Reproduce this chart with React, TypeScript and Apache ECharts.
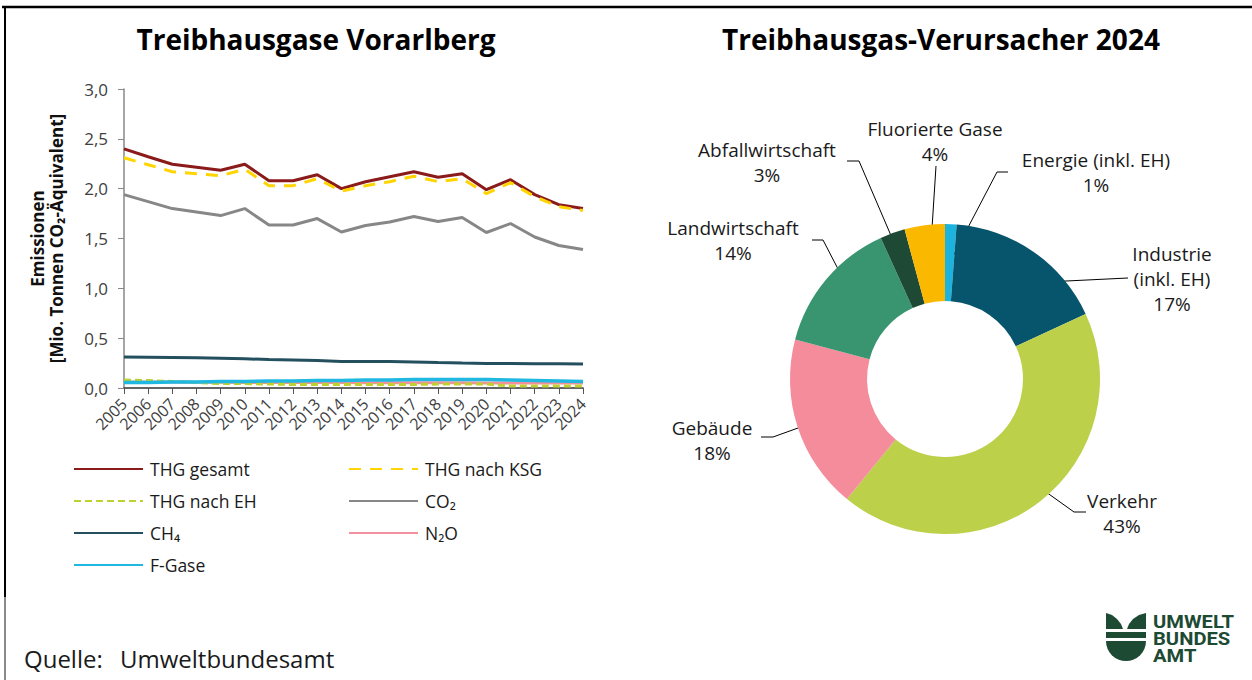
import React, { useEffect, useRef } from 'react';
import * as echarts from 'echarts';

const YEARS = ['2005', '2006', '2007', '2008', '2009', '2010', '2011', '2012', '2013', '2014', '2015', '2016', '2017', '2018', '2019', '2020', '2021', '2022', '2023', '2024'];
const THG_GESAMT = [2.40, 2.32, 2.245, 2.215, 2.185, 2.245, 2.08, 2.08, 2.14, 2.00, 2.07, 2.12, 2.17, 2.115, 2.15, 1.99, 2.09, 1.94, 1.84, 1.80];
const THG_KSG = [2.31, 2.24, 2.17, 2.15, 2.13, 2.195, 2.03, 2.03, 2.10, 1.975, 2.03, 2.07, 2.125, 2.07, 2.10, 1.95, 2.06, 1.92, 1.82, 1.78];
const THG_EH = [0.08, 0.075, 0.065, 0.055, 0.045, 0.045, 0.04, 0.035, 0.035, 0.035, 0.035, 0.035, 0.035, 0.04, 0.04, 0.04, 0.02, 0.02, 0.02, 0.02];
const CO2 = [1.94, 1.87, 1.80, 1.765, 1.73, 1.80, 1.635, 1.635, 1.70, 1.565, 1.63, 1.665, 1.72, 1.67, 1.71, 1.56, 1.65, 1.515, 1.43, 1.39];
const CH4 = [0.31, 0.308, 0.306, 0.303, 0.298, 0.293, 0.285, 0.28, 0.275, 0.267, 0.266, 0.265, 0.262, 0.255, 0.25, 0.247, 0.246, 0.244, 0.243, 0.242];
const N2O = [0.06, 0.06, 0.06, 0.058, 0.057, 0.056, 0.055, 0.055, 0.054, 0.054, 0.053, 0.053, 0.053, 0.052, 0.052, 0.051, 0.05, 0.05, 0.05, 0.05];
const F_GASE = [0.055, 0.055, 0.06, 0.06, 0.065, 0.065, 0.07, 0.07, 0.075, 0.075, 0.08, 0.08, 0.085, 0.085, 0.085, 0.085, 0.08, 0.075, 0.07, 0.065];
const Y_TICKS = ['0,0', '0,5', '1,0', '1,5', '2,0', '2,5', '3,0'];

const PIE_CATEGORIES = ['Energie (inkl. EH)', 'Industrie (inkl. EH)', 'Verkehr', 'Gebäude', 'Landwirtschaft', 'Abfallwirtschaft', 'Fluorierte Gase'];
const PIE_LABEL_TEXT = ['Energie (inkl. EH)', 'Industrie\n(inkl. EH)', 'Verkehr', 'Gebäude', 'Landwirtschaft', 'Abfallwirtschaft', 'Fluorierte Gase'];
const PIE_SHARES = [1.2, 16.9, 42.8, 18.2, 14.1, 2.6, 4.2];
const PIE_COLORS = ['#1cb4de', '#07546d', '#bdd04a', '#f48c9c', '#38956f', '#1e4a35', '#fbb800'];

// label placement (pixel layout, not data)
const LABEL_POS = [
  { x: 1096, y: 172, p1: [997, 172], p2: [1008, 172] },
  { x: 1172, y: 279, p1: [1128, 278], p2: [1128, 278] },
  { x: 1122, y: 513, p1: [1074, 512], p2: [1086, 512] },
  { x: 712, y: 440, p1: [773, 437], p2: [761, 437] },
  { x: 733, y: 240, p1: [823, 240], p2: [812, 240] },
  { x: 767, y: 162, p1: [859, 161], p2: [847, 161] },
  { x: 935, y: 141, p1: [936, 166], p2: [936, 166] },
];

const FONT = '"Open Sans", "Noto Sans", sans-serif';
const LOGO_FONT = 'Roboto, "Liberation Sans", sans-serif';

export default function App() {
  const ref = useRef<HTMLDivElement>(null);
  useEffect(() => {
    const chart = echarts.init(ref.current as HTMLDivElement, null, { renderer: 'svg' });
    const cx = 945, cy = 379, rLabel = 116;
    const total = PIE_SHARES.reduce((a, b) => a + b, 0);
    const cum: number[] = [];
    PIE_SHARES.reduce((acc, v) => { cum.push(acc + v / 2); return acc + v; }, 0);

    const lineDefs = [
      { name: 'N₂O', data: N2O, color: '#f4909e', width: 3, type: 'solid' as any },
      { name: 'THG nach EH', data: THG_EH, color: '#bdd231', width: 3, type: [7, 4] },
      { name: 'F-Gase', data: F_GASE, color: '#1fb8e0', width: 3.5, type: 'solid' },
      { name: 'CH₄', data: CH4, color: '#234f5f', width: 3, type: 'solid' },
      { name: 'CO₂', data: CO2, color: '#878787', width: 3, type: 'solid' },
      { name: 'THG gesamt', data: THG_GESAMT, color: '#8b1a1a', width: 3, type: 'solid' },
      { name: 'THG nach KSG', data: THG_KSG, color: '#ffd400', width: 3, type: [12, 9] },
    ];
    const legendSlots: [string, number, number][] = [
      ['THG gesamt', 73, 469], ['THG nach KSG', 348, 469],
      ['THG nach EH', 73, 501], ['CO₂', 348, 501],
      ['CH₄', 73, 533], ['N₂O', 348, 533],
      ['F-Gase', 73, 565],
    ];

    const option: any = {
      animation: false,
      backgroundColor: '#fff',
      textStyle: { fontFamily: FONT },
      grid: { left: 124, top: 89, width: 459, height: 299, containLabel: false },
      xAxis: {
        type: 'category', data: YEARS, boundaryGap: false,
        axisLine: { lineStyle: { color: '#333', width: 1.5 } },
        axisTick: { show: true, length: 6, lineStyle: { color: '#555' }, interval: 0 },
        axisLabel: { rotate: 45, interval: 0, fontSize: 16, color: '#404040', margin: 13, fontFamily: FONT },
      },
      yAxis: {
        type: 'value', min: 0, max: 3, interval: 0.5,
        name: 'Emissionen\n[Mio. Tonnen CO₂-Äquivalent]',
        nameLocation: 'middle', nameRotate: 90, nameGap: 58,
        nameTextStyle: { fontSize: 17, fontWeight: 'bold', color: '#111', lineHeight: 19, fontFamily: FONT },
        axisLine: { show: true, lineStyle: { color: '#888', width: 1.5 } },
        axisTick: { show: true, length: 6, lineStyle: { color: '#888' } },
        splitLine: { show: false },
        axisLabel: {
          fontSize: 17, color: '#404040', margin: 16, fontFamily: FONT,
          formatter: (v: number) => Y_TICKS[Math.round(v / 0.5)] ?? String(v),
        },
      },
      legend: legendSlots.map(([name, x, y]) => ({
        data: [name], left: x, top: y - 10, padding: 0,
        itemWidth: 69, itemHeight: 14, selectedMode: false,
        itemStyle: { color: 'rgba(0,0,0,0)', borderWidth: 0, opacity: 0 },
        textStyle: { fontSize: 17.5, color: '#1a1a1a', fontFamily: FONT, lineHeight: 20, padding: [0, 0, 0, 2] },
      })),
      series: [
        ...lineDefs.map((d) => ({
          type: 'line', name: d.name, data: d.data, symbol: 'none', showSymbol: false,
          lineStyle: { color: d.color, width: d.width, type: d.type },
          itemStyle: { color: d.color },
          emphasis: { disabled: true }, silent: true,
        })),
        {
          type: 'pie', name: 'Verursacher', center: [cx, cy], radius: [78, 155],
          startAngle: 90, clockwise: true, silent: true,
          label: { show: false }, labelLine: { show: false },
          emphasis: { disabled: true },
          data: PIE_CATEGORIES.map((n, i) => ({ name: n, value: PIE_SHARES[i], itemStyle: { color: PIE_COLORS[i] } })),
        },
        {
          type: 'pie', name: 'Verursacher-Labels', center: [cx, cy], radius: [0, rLabel],
          startAngle: 90, clockwise: true, silent: true, avoidLabelOverlap: false,
          itemStyle: { color: 'rgba(0,0,0,0)' },
          emphasis: { disabled: true },
          label: {
            show: true, position: 'outside', fontSize: 19, lineHeight: 25, color: '#1a1a1a', fontFamily: FONT,
            formatter: (p: any) => PIE_LABEL_TEXT[p.dataIndex] + '\n' + Math.round(p.value / total * 100) + '%',
          },
          labelLine: { show: true, length: 10, length2: 10, lineStyle: { color: '#000', width: 1 } },
          labelLayout: (p: any) => {
            const i = p.dataIndex;
            const L = LABEL_POS[i];
            const ang = (90 - (cum[i] / total) * 360) * Math.PI / 180;
            const start = (p.labelLinePoints && p.labelLinePoints[0]) || [cx + rLabel * Math.cos(ang), cy - rLabel * Math.sin(ang)];
            return {
              x: L.x, y: L.y, align: 'center', verticalAlign: 'middle',
              labelLinePoints: [start, L.p1, L.p2],
            };
          },
          data: PIE_CATEGORIES.map((n, i) => ({ name: n, value: PIE_SHARES[i] })),
        },
      ],
      graphic: [
        { type: 'line', shape: { x1: 2, y1: 7, x2: 1252, y2: 7 }, style: { stroke: '#000', lineWidth: 2.5 } },
        { type: 'line', shape: { x1: 5, y1: 6, x2: 5, y2: 597 }, style: { stroke: '#000', lineWidth: 2 } },
        { type: 'line', shape: { x1: 5, y1: 597, x2: 5, y2: 680 }, style: { stroke: '#8a8a8a', lineWidth: 2 } },
        { type: 'text', x: 316, y: 39, style: { text: 'Treibhausgase Vorarlberg', fontSize: 28, fontWeight: 'bold', fontFamily: FONT, fill: '#000', textAlign: 'center', textVerticalAlign: 'middle' } },
        { type: 'text', x: 941, y: 39, style: { text: 'Treibhausgas-Verursacher 2024', fontSize: 28, fontWeight: 'bold', fontFamily: FONT, fill: '#000', textAlign: 'center', textVerticalAlign: 'middle' } },
        { type: 'text', x: 24, y: 658, style: { text: 'Quelle:', fontSize: 24, fontFamily: FONT, fill: '#1a1a1a', textVerticalAlign: 'middle' } },
        { type: 'text', x: 120, y: 658, style: { text: 'Umweltbundesamt', fontSize: 24, fontFamily: FONT, fill: '#1a1a1a', textVerticalAlign: 'middle' } },
        { type: 'polygon', shape: { points: [[1106, 613], [1112, 615], [1117, 619], [1121, 624], [1123, 629], [1106, 629]] }, style: { fill: '#1d4a33' } },
        { type: 'polygon', shape: { points: [[1146, 613], [1139, 615], [1133, 619], [1129, 624], [1127, 629], [1146, 629]] }, style: { fill: '#1d4a33' } },
        { type: 'rect', shape: { x: 1106, y: 632, width: 40, height: 6 }, style: { fill: '#1d4a33' } },
        { type: 'sector', shape: { cx: 1126, cy: 641, r: 20, r0: 0, startAngle: 0, endAngle: Math.PI, clockwise: true }, style: { fill: '#1d4a33' } },
        { type: 'text', x: 1153, y: 622, scaleX: 1.12, style: { text: 'UMWELT', fontSize: 18, fontWeight: 'bold', fontFamily: LOGO_FONT, fill: '#1d4a33', textVerticalAlign: 'middle' } },
        { type: 'text', x: 1153, y: 639, scaleX: 1.12, style: { text: 'BUNDES', fontSize: 18, fontWeight: 'bold', fontFamily: LOGO_FONT, fill: '#1d4a33', textVerticalAlign: 'middle' } },
        { type: 'text', x: 1153, y: 656, scaleX: 1.12, style: { text: 'AMT', fontSize: 18, fontWeight: 'bold', fontFamily: LOGO_FONT, fill: '#1d4a33', textVerticalAlign: 'middle' } },
      ],
    };
    chart.setOption(option);
    return () => chart.dispose();
  }, []);
  return <div ref={ref} style={{ position: 'absolute', left: 0, top: 0, width: 1252, height: 680, background: '#fff' }} />;
}
